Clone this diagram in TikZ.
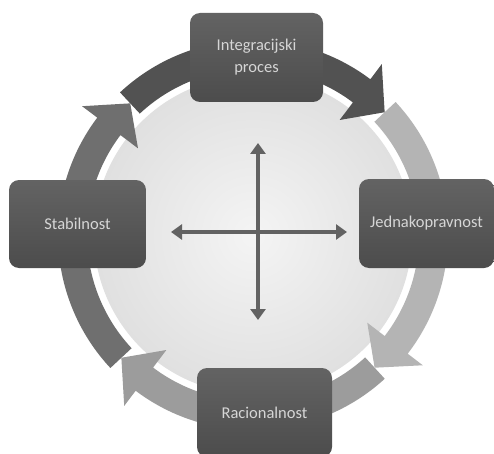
\documentclass[tikz,border=0pt]{standalone}
\usepackage{fontspec}
\setmainfont{Carlito}
\usetikzlibrary{arrows.meta,calc}
\definecolor{arcA}{HTML}{525252}
\definecolor{arcB}{HTML}{B4B4B4}
\definecolor{arcC}{HTML}{9C9C9C}
\definecolor{arcD}{HTML}{6F6F6F}
\definecolor{boxtop}{HTML}{636363}
\definecolor{boxbot}{HTML}{4C4C4C}
\definecolor{boxtext}{HTML}{D6D6D6}
\definecolor{crossc}{HTML}{626262}
\definecolor{diskin}{HTML}{F4F4F4}
\definecolor{diskout}{HTML}{E0E0E0}
\newcommand{\rO}{195}
\newcommand{\rI}{166}
\newcommand{\rM}{180}
\newcommand{\rHO}{214}
\newcommand{\rHI}{144}
\newcommand{\ringarrow}[3]{%
  \fill[#1] (#2:\rO) arc[start angle=#2, end angle={#3+10}, radius=\rO]
    -- ({#3+10}:\rHO) -- (#3:\rM) -- ({#3+10}:\rHI) -- ({#3+10}:\rI)
    arc[start angle={#3+10}, end angle=#2, radius=\rI] -- cycle;}
\begin{document}
\begin{tikzpicture}[x=1pt,y=1pt,
  box/.style={rounded corners=10pt, minimum width=135pt, minimum height=89pt,
    inner sep=0pt, align=center, text=boxtext,
    font=\fontsize{16.5}{22}\selectfont,
    top color=boxtop, bottom color=boxbot, draw=none},
  crossarrow/.style={line width=4pt, draw=crossc,
    {Triangle[width=15pt,length=11pt]}-{Triangle[width=15pt,length=11pt]}}]
\useasboundingbox (0,0) rectangle (494,453);
\fill[white] (0,0) rectangle (494,453);
% central disk
\shade[inner color=diskin, outer color=diskout] (253,218) circle[radius=159];
% ring of arrows
\begin{scope}[shift={(253,218)}]
  \ringarrow{arcD}{-137}{-227}
  \ringarrow{arcC}{-47.5}{-137}
  \ringarrow{arcB}{43}{-47.5}
  \ringarrow{arcA}{133}{43}
\end{scope}
% cross
\coordinate (ct) at (258,310);
\coordinate (cb) at (258,133);
\coordinate (cl) at (171,221);
\coordinate (cr) at (347,221);
\draw[crossarrow] (cl) -- (cr);
\draw[crossarrow] (ct) -- (cb);
% boxes
\node[box, minimum width=133pt] (integ) at (256.5,395.5) {Integracijski\\proces};
\node[box] (jedn) at (426.5,229.5) {Jednakopravnost};
\node[box, minimum width=137pt, minimum height=88pt] (stab) at (77.5,229) {Stabilnost};
\node[box] (rac) at (264.5,40.5) {Racionalnost};
\end{tikzpicture}
\end{document}
